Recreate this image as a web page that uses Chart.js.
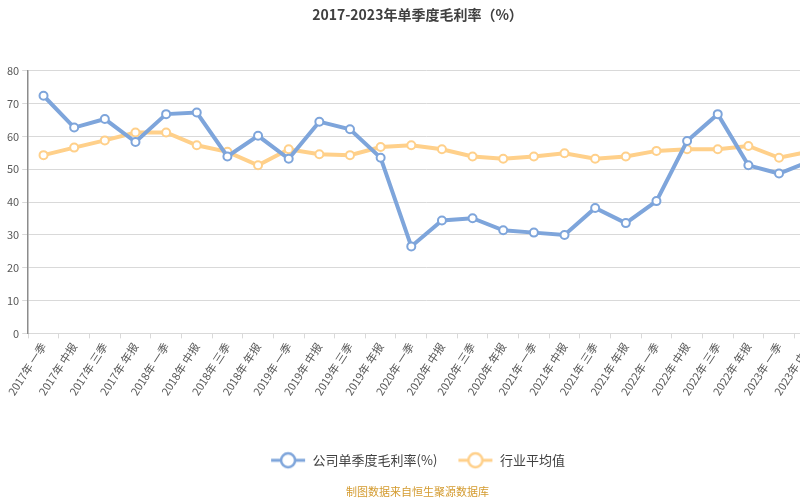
<!DOCTYPE html>
<html>
<head>
<meta charset="utf-8">
<script src="https://cdn.jsdelivr.net/npm/chart.js@4"></script>
<style>
  html, body { margin: 0; padding: 0; background: #fff; overflow: hidden; }
  #wrap { width: 831px; height: 500px; position: relative; }
</style>
</head>
<body>
<div id="wrap"><canvas id="marginChart"></canvas></div>
<script>
const periods = [
  "2017年 一季", "2017年 中报", "2017年 三季", "2017年 年报",
  "2018年 一季", "2018年 中报", "2018年 三季", "2018年 年报",
  "2019年 一季", "2019年 中报", "2019年 三季", "2019年 年报",
  "2020年 一季", "2020年 中报", "2020年 三季", "2020年 年报",
  "2021年 一季", "2021年 中报", "2021年 三季", "2021年 年报",
  "2022年 一季", "2022年 中报", "2022年 三季", "2022年 年报",
  "2023年 一季", "2023年 中报"
];
const companyMargin = [
  72.4, 62.7, 65.3, 58.3, 66.8, 67.3, 53.9, 60.2, 53.2, 64.5, 62.2, 53.5,
  26.5, 34.4, 35.1, 31.4, 30.7, 30.0, 38.2, 33.6, 40.3, 58.6, 66.8, 51.2,
  48.7, 52.4
];
const industryMargin = [
  54.3, 56.6, 58.8, 61.2, 61.2, 57.3, 55.3, 51.2, 56.1, 54.6, 54.3, 56.8,
  57.3, 56.1, 53.9, 53.2, 53.9, 54.9, 53.2, 53.9, 55.6, 56.1, 56.1, 57.1,
  53.5, 55.4
];
const yTicks = [0, 10, 20, 30, 40, 50, 60, 70, 80];

const blue = "#7ea5db";
const orange = "#ffd08a";

// legend marker: line with a hollow circle, like the office-style legend
function legendMarker(color) {
  const c = document.createElement("canvas");
  c.width = 36; c.height = 20;
  const g = c.getContext("2d");
  g.strokeStyle = color;
  g.lineWidth = 3;
  g.beginPath(); g.moveTo(1, 10); g.lineTo(35, 10); g.stroke();
  g.beginPath(); g.arc(18, 10, 7, 0, Math.PI * 2);
  g.fillStyle = "#fff"; g.fill();
  g.lineWidth = 2.5; g.stroke();
  return c;
}

const font = "'Noto Sans CJK SC', 'Noto Sans', sans-serif";

new Chart(document.getElementById("marginChart"), {
  type: "line",
  data: {
    labels: periods,
    datasets: [
      {
        label: "公司单季度毛利率(%)",
        data: companyMargin,
        borderColor: blue,
        backgroundColor: "#fff",
        borderWidth: 4,
        pointRadius: 4,
        pointBorderWidth: 2,
        pointBorderColor: blue,
        pointBackgroundColor: "#fff",
        tension: 0
      },
      {
        label: "行业平均值",
        data: industryMargin,
        borderColor: orange,
        backgroundColor: "#fff",
        borderWidth: 4,
        pointRadius: 4,
        pointBorderWidth: 2,
        pointBorderColor: orange,
        pointBackgroundColor: "#fff",
        tension: 0
      }
    ]
  },
  options: {
    responsive: true,
    maintainAspectRatio: false,
    animation: false,
    layout: { padding: { left: 4, right: 0, top: 0, bottom: 0 } },
    scales: {
      x: {
        offset: true,
        afterFit: (axis) => { axis.height += 34; },
        grid: {
          offset: true,
          drawOnChartArea: false,
          color: "#d9d9d9",
          tickLength: 5
        },
        border: { color: "#d9d9d9", width: 1 },
        ticks: {
          autoSkip: false,
          minRotation: 57,
          maxRotation: 57,
          padding: 2,
          color: "#595959",
          font: { family: font, size: 11 }
        }
      },
      y: {
        min: 0,
        max: 80,
        afterBuildTicks: (axis) => { axis.ticks = yTicks.map(v => ({ value: v })); },
        grid: { color: "#d9d9d9", tickLength: 6 },
        border: { color: "#8c8c8c", width: 1.5 },
        ticks: {
          padding: 3,
          color: "#595959",
          font: { family: font, size: 11 }
        }
      }
    },
    plugins: {
      title: {
        display: true,
        text: "2017-2023年单季度毛利率（%）",
        color: "#404040",
        font: { family: font, size: 14, weight: "bold" },
        padding: { top: 6, bottom: 48 }
      },
      legend: {
        position: "bottom",
        labels: {
          usePointStyle: true,
          pointStyleWidth: 36,
          boxHeight: 13,
          padding: 20,
          color: "#404040",
          font: { family: font, size: 13 },
          generateLabels: (chart) => chart.data.datasets.map((ds, i) => ({
            text: ds.label,
            pointStyle: legendMarker(ds.borderColor),
            fillStyle: "#fff",
            strokeStyle: ds.borderColor,
            lineWidth: 0,
            hidden: false,
            datasetIndex: i,
            fontColor: "#404040"
          }))
        }
      },
      subtitle: {
        display: true,
        position: "bottom",
        text: "制图数据来自恒生聚源数据库",
        color: "#d49b2f",
        font: { family: font, size: 11 },
        padding: { top: 8, bottom: 2 }
      },
      tooltip: { enabled: false }
    }
  }
});
</script>
</body>
</html>
